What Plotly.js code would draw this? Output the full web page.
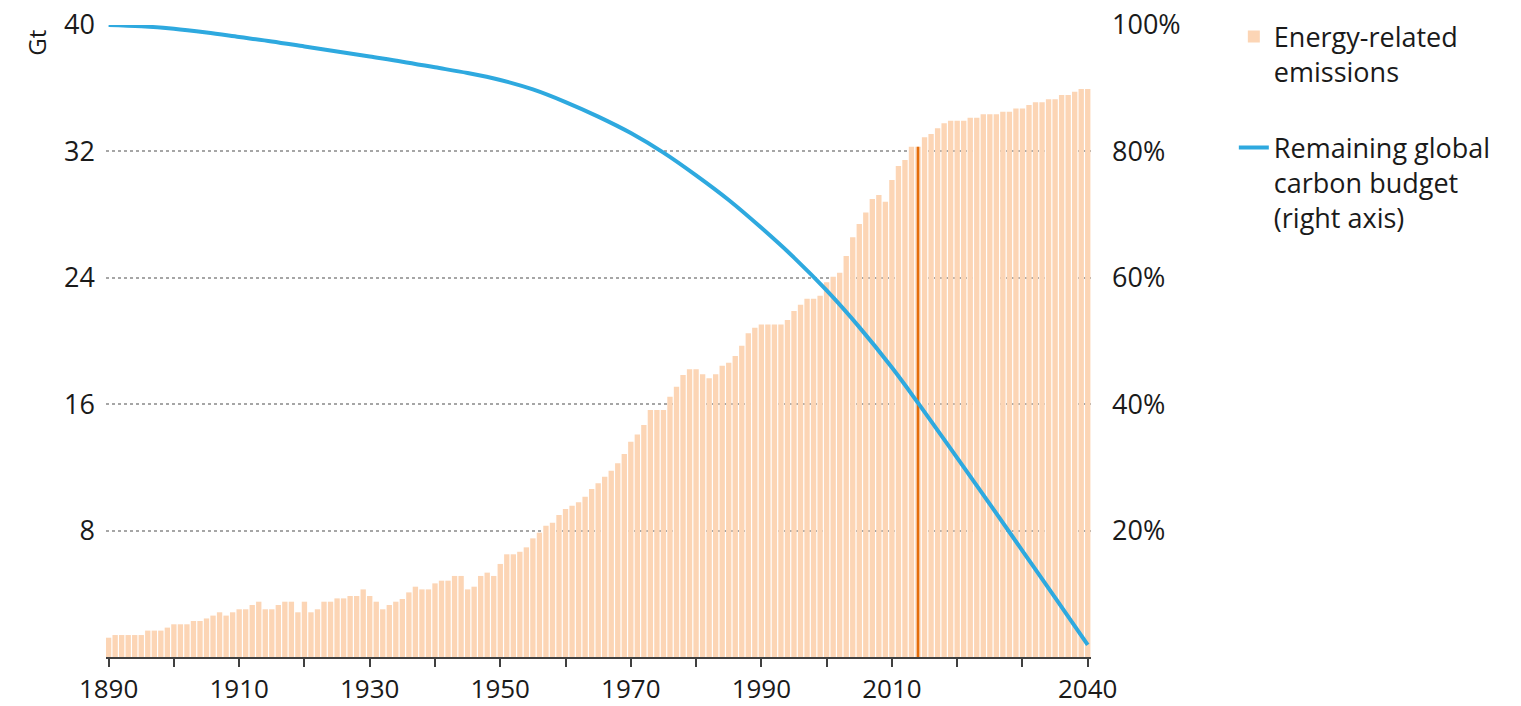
<!DOCTYPE html>
<html>
<head>
<meta charset="utf-8">
<script src="https://cdn.plot.ly/plotly-3.0.1.min.js"></script>
<style>
  html, body { margin: 0; padding: 0; background: #ffffff; }
  #chart { width: 1521px; height: 706px; }
</style>
</head>
<body>
<div id="chart"></div>
<script>
// ---- DATA ----
const firstYear = 1890;
const lastYear = 2040;
const lastHistoricalYear = 2014;

// Energy-related CO2 emissions (Gt), one value per year 1890..2040
const emissions = [
  1.22, 1.39, 1.39, 1.39, 1.39, 1.39, 1.67, 1.67, 1.67, 1.86,        // 1890s
  2.07, 2.07, 2.07, 2.28, 2.28, 2.44, 2.62, 2.83, 2.62, 2.83,        // 1900s
  3.02, 3.02, 3.29, 3.50, 3.02, 3.02, 3.29, 3.50, 3.50, 2.83,        // 1910s
  3.50, 2.83, 3.02, 3.50, 3.50, 3.71, 3.71, 3.86, 3.86, 4.28,        // 1920s
  3.86, 3.50, 3.02, 3.29, 3.50, 3.67, 4.09, 4.45, 4.28, 4.28,        // 1930s
  4.66, 4.83, 4.83, 5.13, 5.13, 4.28, 4.45, 5.13, 5.34, 5.13,        // 1940s
  5.89, 6.50, 6.50, 6.66, 6.94, 7.51, 7.87, 8.31, 8.50, 8.99,        // 1950s
  9.37, 9.58, 9.79, 10.15, 10.63, 10.99, 11.41, 11.79, 12.26, 12.85, // 1960s
  13.63, 14.09, 14.68, 15.63, 15.63, 15.63, 16.47, 17.11, 17.85, 18.21, // 1970s
  18.21, 17.89, 17.64, 17.89, 18.44, 18.63, 19.05, 19.70, 20.49, 20.84, // 1980s
  21.05, 21.05, 21.05, 21.05, 21.33, 21.90, 22.30, 22.68, 22.68, 22.87, // 1990s
  23.72, 24.07, 24.32, 25.38, 26.56, 27.41, 28.14, 28.99, 29.24, 28.82, // 2000s
  30.19, 31.08, 31.46, 32.30, 32.30, 32.89, 33.10, 33.46, 33.78, 33.94, // 2010s
  33.94, 33.94, 34.13, 34.13, 34.35, 34.35, 34.35, 34.51, 34.51, 34.72, // 2020s
  34.72, 34.94, 35.11, 35.11, 35.30, 35.30, 35.57, 35.57, 35.78, 35.95, // 2030s
  35.95                                                                // 2040
];

// Remaining global carbon budget (%, right axis), read at selected years
const budgetYears = [1890, 1895, 1900, 1905, 1910, 1915, 1920, 1925, 1930, 1935, 1940, 1945,
                     1950, 1955, 1960, 1965, 1970, 1975, 1980, 1985, 1990, 1995, 2000, 2005,
                     2010, 2014, 2020, 2025, 2030, 2035, 2040];
const budgetPct   = [100, 99.8, 99.4, 98.8, 98.1, 97.4, 96.6, 95.8, 95.0, 94.2, 93.3, 92.4,
                     91.3, 89.8, 87.8, 85.5, 82.9, 79.8, 76.2, 72.3, 67.9, 63.2, 58.0, 52.2,
                     45.8, 40.2, 31.5, 24.2, 16.8, 9.4, 1.9];

const xTickVals = [1890, 1900, 1910, 1920, 1930, 1940, 1950, 1960, 1970, 1980, 1990, 2000, 2010, 2020, 2030, 2040];
const xTickText = ['1890', '', '1910', '', '1930', '', '1950', '', '1970', '', '1990', '', '2010', '', '', '2040'];
const yTickVals = [8, 16, 24, 32, 40];
const y2TickVals = [20, 40, 60, 80, 100];
const y2TickText = ['20%', '40%', '60%', '80%', '100%'];

const seriesNames = ['Energy-related<br>emissions', 'Remaining global<br>carbon budget<br>(right axis)'];

// ---- BUILD ----
const years = [];
for (let y = firstYear; y <= lastYear; y++) years.push(y);
const histIdx = years.indexOf(lastHistoricalYear);

const FONT = '"Open Sans", "Noto Sans", sans-serif';
const TXT = '#1a1a1a';

const traces = [
  {
    type: 'bar', x: years, y: emissions, name: seriesNames[0],
    marker: { color: '#FCD5B5', line: { width: 0 } },
    legendgroup: 'a', hoverinfo: 'x+y'
  },
  {
    type: 'bar', x: [lastHistoricalYear], y: [emissions[histIdx]], width: [0.38],
    marker: { color: '#E46C0A', line: { width: 0 } },
    showlegend: false, hoverinfo: 'skip'
  },
  {
    type: 'scatter', mode: 'lines', x: budgetYears, y: budgetPct, yaxis: 'y2',
    name: seriesNames[1], line: { color: '#2EA9DF', width: 4, shape: 'spline', smoothing: 1 },
    legendgroup: 'b'
  }
];

const layout = {
  width: 1521, height: 706,
  margin: { l: 106, r: 430, t: 25, b: 49, pad: 0, autoexpand: false },
  paper_bgcolor: '#ffffff', plot_bgcolor: '#ffffff',
  font: { family: FONT, size: 26, color: TXT },
  barmode: 'overlay',
  bargap: 0.18,
  showlegend: true,
  legend: {
    x: 1.145, xanchor: 'left', y: 1.02, yanchor: 'top',
    font: { family: FONT, size: 27, color: TXT },
    traceorder: 'grouped', tracegroupgap: 38, valign: 'top',
    itemwidth: 30, bgcolor: 'rgba(0,0,0,0)'
  },
  xaxis: {
    range: [1889.6, 2040.5], automargin: false,
    tickvals: xTickVals, ticktext: xTickText,
    ticks: 'outside', ticklen: 8, tickwidth: 2, tickcolor: '#404040',
    showline: true, linecolor: '#404040', linewidth: 2,
    showgrid: false, zeroline: false,
    tickfont: { family: FONT, size: 26, color: TXT },
    fixedrange: true
  },
  yaxis: {
    range: [0, 40], automargin: false,
    tickvals: yTickVals,
    ticks: '', ticklabelstandoff: 10,
    showgrid: true, gridcolor: '#a6a6a6', gridwidth: 2, griddash: 'dot',
    zeroline: false, showline: false,
    tickfont: { family: FONT, size: 27, color: TXT },
    fixedrange: true
  },
  yaxis2: {
    overlaying: 'y', side: 'right', range: [0, 100], automargin: false,
    tickvals: y2TickVals, ticktext: y2TickText,
    ticks: '', ticklabelstandoff: 20,
    showgrid: false, zeroline: false, showline: false,
    tickfont: { family: FONT, size: 27, color: TXT },
    fixedrange: true
  },
  annotations: [
    {
      text: 'Gt', xref: 'paper', yref: 'paper', x: -0.07, y: 0.972,
      xanchor: 'center', yanchor: 'middle', textangle: -90, showarrow: false,
      font: { family: FONT, size: 24, color: TXT }
    }
  ]
};

Plotly.newPlot('chart', traces, layout, { displayModeBar: false, staticPlot: true });
</script>
</body>
</html>
